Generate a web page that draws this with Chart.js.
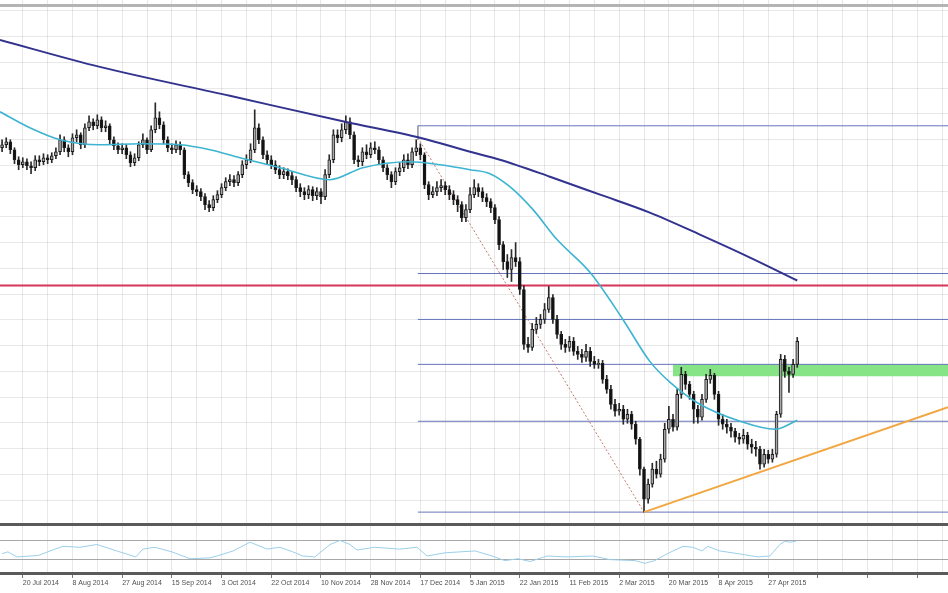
<!DOCTYPE html>
<html>
<head>
<meta charset="utf-8">
<script src="https://cdn.jsdelivr.net/npm/chart.js@4.4.1/dist/chart.umd.min.js"></script>
<style>
  html, body { margin: 0; padding: 0; background: #fff; }
  #wrap { width: 948px; height: 593px; position: relative; }
</style>
</head>
<body>
<div id="wrap"><canvas id="priceChart"></canvas></div>
<script>
// daily candles, bar index 0..192, open = previous close
const firstOpen = 452;
const closes = [
  455,458,450,440,435,438,434,432,440,438,
  442,440,444,448,460,452,448,462,465,455,
  472,478,474,480,472,474,460,454,450,452,
  445,437,442,455,460,450,470,482,475,460,
  452,450,455,450,425,417,410,408,403,395,
  392,400,405,412,418,420,417,425,435,440,
  450,472,460,445,440,435,430,425,428,424,
  420,412,408,405,410,404,408,403,425,440,
  465,462,470,478,465,440,438,448,445,452,
  450,440,432,425,418,428,432,440,435,448,
  452,445,415,405,408,412,414,410,405,400,
  395,382,390,405,412,408,402,398,392,380,
  355,338,330,342,338,310,255,252,270,275,
  280,290,302,280,265,255,252,258,248,245,
  242,248,238,235,236,220,210,195,188,190,
  180,185,175,160,130,100,115,130,125,140,
  170,180,172,205,225,215,205,190,182,200,
  220,224,205,180,175,172,168,162,160,164,
  155,152,150,135,145,140,145,185,240,228,
  225,235,258
];
const highs = [
  460,462,460,452,443,442,441,438,444,444,
  446,445,447,452,465,463,455,466,470,467,
  476,484,481,485,483,479,476,463,457,456,
  455,448,446,458,466,462,474,497,488,478,
  463,456,459,458,452,428,420,414,411,406,
  399,404,409,416,422,425,424,428,439,445,
  456,490,476,463,449,444,439,434,432,431,
  428,423,416,412,414,413,412,411,430,445,
  470,470,476,484,482,468,444,452,455,457,
  458,453,443,435,428,432,437,445,446,452,
  460,456,447,418,413,418,420,418,414,409,
  404,398,395,412,420,416,412,406,401,395,
  383,358,345,350,357,342,314,262,276,282,
  285,296,313,305,284,268,260,263,262,253,
  250,255,252,243,240,239,224,214,200,196,
  194,190,188,178,162,132,120,136,138,145,
  176,193,185,210,232,228,218,208,194,205,
  225,230,226,208,185,180,176,171,166,170,
  167,160,158,153,150,149,150,188,245,244,
  232,240,262
];
const lows = [
  448,452,446,436,430,432,430,426,429,434,
  435,436,437,441,445,448,443,445,458,451,
  452,469,470,471,468,468,456,450,446,446,
  441,433,434,439,452,446,448,467,471,456,
  448,446,447,445,421,413,406,404,399,390,
  388,389,397,402,409,414,413,414,422,431,
  437,447,456,441,436,431,426,421,421,420,
  415,408,403,400,401,399,400,396,400,422,
  437,457,458,466,461,436,433,434,441,442,
  446,436,428,420,412,415,424,428,431,432,
  444,440,411,400,402,404,408,405,400,395,
  388,378,378,387,402,403,398,393,387,376,
  350,330,322,318,333,305,250,247,249,266,
  271,276,287,276,261,250,247,248,244,240,
  237,238,233,231,231,216,206,190,183,184,
  175,176,170,155,124,87,96,112,121,122,
  137,166,168,169,201,210,200,176,176,179,
  197,216,200,174,170,166,162,157,155,156,
  150,146,143,130,132,136,137,142,182,222,
  207,222,232
];

// date labels, one every 12 bars starting at bar 5
const dateLabels = ['20 Jul 2014','8 Aug 2014','27 Aug 2014','15 Sep 2014','3 Oct 2014','22 Oct 2014',
  '10 Nov 2014','28 Nov 2014','17 Dec 2014','5 Jan 2015','22 Jan 2015','11 Feb 2015',
  '2 Mar 2015','20 Mar 2015','8 Apr 2015','27 Apr 2015'];
const labelStart = 5, labelEvery = 12;

// moving averages as [bar, value]
const maSlow = [[-0.5,560],[23.6,533],[55,504],[82.8,478],[100.9,462],[113,448],[120.2,440],
  [132.3,423],[144.4,405],[156.4,387],[168.5,365],[180.6,342],[192,319]];
const maFast = [[-0.5,488],[6.7,472],[14,460],[23.6,455],[33.3,456],[43,455],[50.2,450],
  [57.4,442],[67.1,432],[79.2,420],[87.1,432],[98.5,438],[105.7,435],[113,430],[117.8,426],
  [122.6,413],[128.2,390],[134,360],[142,327],[149.9,280],[156.4,238],[161.3,217],
  [168.5,195],[178.2,178],[186.6,170],[192,179]];

// oscillator 0..100
const rsi = [[0,42],[1.4,46],[3.6,35],[8.7,38],[12.8,52],[14.7,58],[18.8,56],[22.9,62],
  [27.7,48],[32.3,35],[34,52],[36.9,56],[41,46],[45.4,31],[50.2,33],[51.9,37],[55.8,48],
  [59.9,67],[64,52],[67.1,56],[70.2,46],[72.6,37],[75.5,35],[79.2,62],[81.6,71],[84,62],
  [85.7,50],[90,56],[96,52],[100.2,56],[102.6,37],[107,44],[114.2,48],[118.3,37],[121.4,27],
  [124.6,31],[127.5,25],[131.6,37],[136.4,35],[142.7,37],[146.8,29],[152.8,27],[155.2,21],
  [157.6,27],[159.6,37],[162,48],[164.4,58],[166.8,56],[169,48],[170.4,58],[173.3,48],
  [177.7,42],[182.5,35],[185.4,37],[187.8,62],[189,69],[190.2,67],[191.7,69]];
const rsiLevels = [30, 70];

// drawn objects
const fibStart = 100.4;
const fibLevels = [474, 326, 280, 235, 178, 87];
const redLevel = 314;
const zoneStart = 162, zoneTop = 235, zoneBottom = 223;
const trendLine = [[155, 87], [228.4, 192]];
const fibDiag = [[100.4, 462], [155, 87]];
const fibTick = [[100.4, 474], [100.4, 460]];

const xMin = -0.5, xMax = 228.4;

const opens = closes.map((c, i) => i === 0 ? firstOpen : closes[i - 1]);
const wickData = closes.map((c, i) => ({ x: i, y: [lows[i], highs[i]] }));
const bodyData = closes.map((c, i) => ({ x: i, y: [opens[i], c] }));

function line(data, color, width, extra) {
  return Object.assign({ type: 'line', data: data, borderColor: color, borderWidth: width,
    pointRadius: 0, fill: false, tension: 0, yAxisID: 'y' }, extra || {});
}

const datasets = [];
// green zone
datasets.push(line([[zoneStart, zoneTop], [xMax, zoneTop]], 'rgba(0,0,0,0)', 0,
  { fill: { value: zoneBottom }, backgroundColor: '#86e486', order: 20 }));
// fibo levels
fibLevels.forEach(l => datasets.push(line([[fibStart, l], [xMax, l]], '#6674bc', 1, { order: 15 })));
datasets.push(line(fibTick, '#9a9aa8', 1, { order: 15 }));
datasets.push(line([[xMin, redLevel], [xMax, redLevel]], '#d6355c', 2, { order: 14 }));
datasets.push(line(fibDiag, '#c27a70', 1, { borderDash: [2, 2], order: 13 }));
// candles
datasets.push({ type: 'bar', data: wickData, backgroundColor: '#2a2a2a', barThickness: 1,
  grouped: false, order: 12, yAxisID: 'y' });
datasets.push({ type: 'bar', data: bodyData, barThickness: 3, grouped: false, order: 11,
  yAxisID: 'y', minBarLength: 1, borderSkipped: false, borderWidth: 1, borderColor: '#1c1c1c',
  backgroundColor: ctx => closes[ctx.dataIndex] >= opens[ctx.dataIndex] ? '#a8a8a8' : '#111111' });
// indicators
datasets.push(line(maSlow, '#32328f', 2, { cubicInterpolationMode: 'monotone', order: 5 }));
datasets.push(line(maFast, '#3cb4d2', 1.6, { cubicInterpolationMode: 'monotone', order: 5 }));
datasets.push(line(trendLine, '#f2a640', 2, { order: 5 }));
datasets.push(line(rsi, '#9ccfe8', 1, { yAxisID: 'y2', order: 5 }));

new Chart(document.getElementById('priceChart'), {
  type: 'bar',
  data: { datasets: datasets },
  options: {
    responsive: true,
    maintainAspectRatio: false,
    animation: false,
    layout: { padding: { left: 0, right: 0, top: 0, bottom: 4.6 } },
    plugins: { legend: { display: false }, tooltip: { enabled: false } },
    scales: {
      x: {
        type: 'linear', min: xMin, max: xMax, offset: false,
        border: { display: false },
        grid: { offset: false, color: 'rgba(0,0,0,0.09)', lineWidth: 1, drawTicks: true, tickLength: 3,
          tickColor: ctx => ((ctx.tick.value - labelStart) % labelEvery === 0 ? '#777' : 'rgba(0,0,0,0)') },
        afterBuildTicks: s => {
          const t = [];
          for (let v = labelStart; v <= xMax; v += labelEvery / 2) t.push({ value: v });
          s.ticks = t;
        },
        ticks: {
          autoSkip: false, maxRotation: 0, minRotation: 0, align: 'start', padding: 1,
          color: '#505050', font: { family: 'Liberation Sans', size: 7 },
          callback: v => ((v - labelStart) % labelEvery === 0 ? (dateLabels[(v - labelStart) / labelEvery] || '') : '')
        }
      },
      y: {
        type: 'linear', position: 'left', min: 24, max: 600, beginAtZero: false,
        border: { display: false },
        ticks: { display: false },
        grid: { drawTicks: false,
          color: ctx => (ctx.tick.value > 592 ? '#b4b4b4' : 'rgba(0,0,0,0.09)'),
          lineWidth: ctx => (ctx.tick.value > 592 ? 3 : 1) },
        afterBuildTicks: s => {
          const t = [];
          for (let v = 99; v < 592; v += 25.8) t.push({ value: v });
          t.push({ value: 594 });
          s.ticks = t;
        },
        afterFit: s => { s.width = 0; }
      },
      y2: {
        type: 'linear', position: 'left', min: -4.4, max: 1247.8, beginAtZero: false,
        border: { display: false },
        ticks: { display: false },
        grid: { drawTicks: false,
          color: ctx => (rsiLevels.includes(ctx.tick.value) ? '#a8a8a8' : '#5a5a5a'),
          lineWidth: ctx => (rsiLevels.includes(ctx.tick.value) ? 1 : 3) },
        afterBuildTicks: s => {
          s.ticks = [-1.1].concat(rsiLevels).concat([105.4]).map(v => ({ value: v }));
        },
        afterFit: s => { s.width = 0; }
      }
    }
  }
});
</script>
</body>
</html>
